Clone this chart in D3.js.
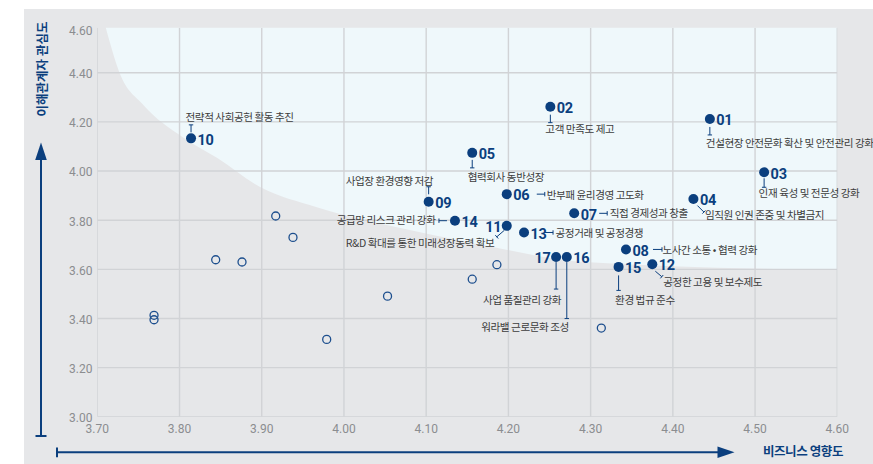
<!DOCTYPE html>
<html>
<head>
<meta charset="utf-8">
<script src="https://cdn.jsdelivr.net/npm/d3@7"></script>
<style>
  body { margin: 0; background: #fff; }
  svg { display: block; }
  .tick-label { font-family: Roboto, "Noto Sans", sans-serif; font-size: 12px; fill: #8b8d90; }
  .issue-num { font-family: Roboto, sans-serif; font-weight: 700; font-size: 14.5px; fill: #0b3f7e; letter-spacing: -0.3px; }
  .issue-name { font-family: "Noto Sans CJK KR", sans-serif; font-size: 10.6px; fill: #3d3d3d; letter-spacing: -0.45px; }
  .axis-title { font-family: "Noto Sans CJK KR", sans-serif; font-weight: 700; font-size: 12.5px; fill: #0b3f7e; }
</style>
</head>
<body>
<svg id="chart"></svg>
<script>
// 중대 이슈 (번호, 비즈니스 영향도, 이해관계자 관심도, 이슈명)
var issueIds = ['01','02','03','04','05','06','07','08','09','10','11','12','13','14','15','16','17'];
var issueX = [4.445, 4.251, 4.511, 4.425, 4.156, 4.198, 4.280, 4.343, 4.103, 3.814, 4.198, 4.375, 4.219, 4.135, 4.334, 4.271, 4.258];
var issueY = [4.212, 4.262, 3.995, 3.886, 4.074, 3.906, 3.828, 3.681, 3.875, 4.133, 3.777, 3.621, 3.750, 3.798, 3.610, 3.650, 3.650];
var issueNames = [
    '건설현장 안전문화 확산 및 안전관리 강화',
    '고객 만족도 제고',
    '인재 육성 및 전문성 강화',
    '임직원 인권 존중 및 차별금지',
    '협력회사 동반성장',
    '반부패 윤리경영 고도화',
    '직접 경제성과 창출',
    '노사간 소통 • 협력 강화',
    '사업장 환경영향 저감',
    '전략적 사회공헌 활동 추진',
    'R&D 확대를 통한 미래성장동력 확보',
    '공정한 고용 및 보수제도',
    '공정거래 및 공정경쟁',
    '공급망 리스크 관리 강화',
    '환경 법규 준수',
    '워라밸 근로문화 조성',
    '사업 품질관리 강화'
];

// 비중대 이슈 (빈 원)
var otherX = [3.917, 3.938, 3.844, 3.876, 3.769, 3.769, 3.979, 4.053, 4.156, 4.186, 4.313];
var otherY = [3.817, 3.730, 3.639, 3.630, 3.413, 3.395, 3.315, 3.491, 3.560, 3.619, 3.361];

// 중대성 영역 경계
var zoneX = [3.709, 3.727, 3.756, 3.804, 3.846, 3.898, 3.967, 4.080, 4.181, 4.287, 4.600];
var zoneY = [4.600, 4.400, 4.269, 4.138, 4.053, 3.935, 3.853, 3.760, 3.691, 3.631, 3.597];

var xTicks = [3.70, 3.80, 3.90, 4.00, 4.10, 4.20, 4.30, 4.40, 4.50, 4.60];
var yTicks = [3.00, 3.20, 3.40, 3.60, 3.80, 4.00, 4.20, 4.40, 4.60];

// 라벨 배치: 번호 위치, 지시선 [x1,y1,x2,y2], 이슈명 위치/정렬 (점 중심 기준 px)
var labelLayout = [
    {num: 'r', lead: [0, 8, 0, 16],   tx: -4,    ty: 24,   anchor: 'start'},
    {num: 'r', lead: [0, 8, 0, 16],   tx: -5,    ty: 22.5, anchor: 'start'},
    {num: 'r', lead: [0, 6, 0, 15],   tx: -5.5,  ty: 21,   anchor: 'start'},
    {num: 'r', lead: [4, 6.5, 10.5, 13], tx: 11.5, ty: 16.5, anchor: 'start'},
    {num: 'r', lead: [0, 7, 0, 15],   tx: -4.5,  ty: 24,   anchor: 'start'},
    {num: 'r', lead: [30, 0, 38, 0],  tx: 40,    ty: 1.5,  anchor: 'start'},
    {num: 'r', lead: [25, 0, 33, 0],  tx: 35.5,  ty: 0,    anchor: 'start'},
    {num: 'r', lead: [27, 0, 36, 0],  tx: 36.5,  ty: 0.5,  anchor: 'start'},
    {num: 'r', lead: [0, -7.5, 0, -15], tx: 4.5, ty: -20.5, anchor: 'end'},
    {num: 'r', lead: [0, -6, 0, -13.5], tx: -5.5, ty: -21.5, anchor: 'start'},
    {num: 'l', lead: [-2.5, 4.5, -10, 11], tx: -12.5, ty: 17, anchor: 'end'},
    {num: 'r', lead: [3, 7, 9.5, 12.5], tx: 11, ty: 17.5, anchor: 'start'},
    {num: 'r', lead: [21, 0, 29, 0],  tx: 31.5,  ty: 0.5,  anchor: 'start'},
    {num: 'r', lead: [-8, 0, -16, 0], tx: -19.5, ty: -0.5, anchor: 'end'},
    {num: 'r', lead: [0, 8.5, 0, 23.5], tx: -3.5, ty: 33.5, anchor: 'start'},
    {num: 'r', lead: [0, 5, 0, 61.5], tx: 2,     ty: 70.5, anchor: 'end'},
    {num: 'l', lead: [0, 5, 0, 32],   tx: 5,     ty: 43,   anchor: 'end'}
];

var width = 873, height = 464;
var blue = '#0b3f7e';
var plot = {left: 97.3, right: 837.3, top: 27.7, bottom: 416.8};

var x = d3.scaleLinear().domain([3.70, 4.60]).range([plot.left, plot.right]);
var y = d3.scaleLinear().domain([3.00, 4.60]).range([plot.bottom, 23.6]);

var svg = d3.select('#chart').attr('width', width).attr('height', height);

// 배경 패널
svg.append('rect')
    .attr('x', 24).attr('y', 9)
    .attr('width', width - 24).attr('height', height - 9)
    .attr('fill', '#e6e7e9');

svg.append('clipPath').attr('id', 'plot-clip')
    .append('rect')
    .attr('x', plot.left).attr('y', plot.top)
    .attr('width', plot.right - plot.left).attr('height', plot.bottom - plot.top);

// 중대성 영역
var zone = d3.range(zoneX.length).map(function(i) { return {x: zoneX[i], y: zoneY[i]}; });
var area = d3.area()
    .x(function(d) { return x(d.x); })
    .y0(function(d) { return y(d.y); })
    .y1(plot.top - 10)
    .curve(d3.curveMonotoneX);
svg.append('path')
    .datum(zone)
    .attr('clip-path', 'url(#plot-clip)')
    .attr('d', area)
    .attr('fill', '#eff8fb');

// 격자
var grid = svg.append('g').attr('clip-path', 'url(#plot-clip)');
grid.selectAll('line.vx')
    .data(xTicks)
    .join('line')
    .attr('class', 'vx')
    .attr('x1', d => x(d)).attr('x2', d => x(d))
    .attr('y1', plot.top).attr('y2', plot.bottom)
    .attr('stroke', '#d1d3d6').attr('stroke-width', 1.4);
grid.selectAll('line.hy')
    .data(yTicks.filter(d => d < 4.6))
    .join('line')
    .attr('class', 'hy')
    .attr('x1', plot.left).attr('x2', plot.right)
    .attr('y1', d => y(d)).attr('y2', d => y(d))
    .attr('stroke', '#d1d3d6').attr('stroke-width', 1.4);

// 축 라벨
svg.append('g').selectAll('text')
    .data(yTicks)
    .join('text')
    .attr('class', 'tick-label')
    .attr('x', 92.5)
    .attr('y', d => Math.max(y(d), 30) + 1.2)
    .attr('dy', '0.35em')
    .attr('text-anchor', 'end')
    .text(d => d.toFixed(2));
svg.append('g').selectAll('text')
    .data(xTicks)
    .join('text')
    .attr('class', 'tick-label')
    .attr('x', d => x(d))
    .attr('y', 428.5)
    .attr('dy', '0.35em')
    .attr('text-anchor', 'middle')
    .text(d => d.toFixed(2));

// 축 화살표
var axisG = svg.append('g').attr('stroke', blue).attr('fill', blue);
axisG.append('line').attr('x1', 41).attr('x2', 41).attr('y1', 155).attr('y2', 436).attr('stroke-width', 2);
axisG.append('line').attr('x1', 35.5).attr('x2', 46.5).attr('y1', 436).attr('y2', 436).attr('stroke-width', 2);
axisG.append('path').attr('stroke', 'none').attr('d', 'M41,142.5L46.8,160L35.2,160Z');
axisG.append('line').attr('x1', 57).attr('x2', 722).attr('y1', 452.3).attr('y2', 452.3).attr('stroke-width', 2);
axisG.append('line').attr('x1', 57).attr('x2', 57).attr('y1', 447.5).attr('y2', 457.3).attr('stroke-width', 2);
axisG.append('path').attr('stroke', 'none').attr('d', 'M734.5,452.3L717.5,446.5L717.5,458.1Z');

svg.append('text')
    .attr('class', 'axis-title')
    .attr('transform', 'translate(46.5,69) rotate(-90)')
    .attr('text-anchor', 'middle')
    .text('이해관계자 관심도');
svg.append('text')
    .attr('class', 'axis-title')
    .attr('x', 803).attr('y', 452)
    .attr('dy', '0.35em')
    .attr('text-anchor', 'middle')
    .style('letter-spacing', '-0.4px')
    .text('비즈니스 영향도');

// 비중대 이슈
svg.append('g').selectAll('circle')
    .data(d3.range(otherX.length))
    .join('circle')
    .attr('cx', i => x(otherX[i]))
    .attr('cy', i => y(otherY[i]))
    .attr('r', 4)
    .attr('fill', 'none')
    .attr('stroke', '#1d4f8e')
    .attr('stroke-width', 1.3);

// 중대 이슈
var issues = d3.range(issueIds.length).map(function(i) {
    return {id: issueIds[i], x: issueX[i], y: issueY[i], name: issueNames[i], lay: labelLayout[i]};
});

var node = svg.append('g').selectAll('g')
    .data(issues)
    .join('g')
    .attr('transform', d => 'translate(' + x(d.x) + ',' + y(d.y) + ')');

node.append('line')
    .attr('x1', d => d.lay.lead[0]).attr('y1', d => d.lay.lead[1])
    .attr('x2', d => d.lay.lead[2]).attr('y2', d => d.lay.lead[3])
    .attr('stroke', blue).attr('stroke-width', 1);

// 지시선 끝 막대
node.append('line')
    .each(function(d) {
        var l = d.lay.lead, dx = l[2] - l[0], dy = l[3] - l[1];
        var len = Math.sqrt(dx * dx + dy * dy), h = 2.2;
        var px = -dy / len * h, py = dx / len * h;
        d3.select(this)
            .attr('x1', l[2] - px).attr('y1', l[3] - py)
            .attr('x2', l[2] + px).attr('y2', l[3] + py);
    })
    .attr('stroke', blue).attr('stroke-width', 1);

node.append('circle')
    .attr('r', 5)
    .attr('fill', blue);

node.append('text')
    .attr('class', 'issue-num')
    .attr('x', d => d.lay.num === 'r' ? 6.5 : -5.5)
    .attr('y', 1)
    .attr('dy', '0.36em')
    .attr('text-anchor', d => d.lay.num === 'r' ? 'start' : 'end')
    .text(d => d.id);

node.append('text')
    .attr('class', 'issue-name')
    .attr('x', d => d.lay.tx)
    .attr('y', d => d.lay.ty)
    .attr('dy', '0.36em')
    .attr('text-anchor', d => d.lay.anchor)
    .text(d => d.name);
</script>
</body>
</html>
